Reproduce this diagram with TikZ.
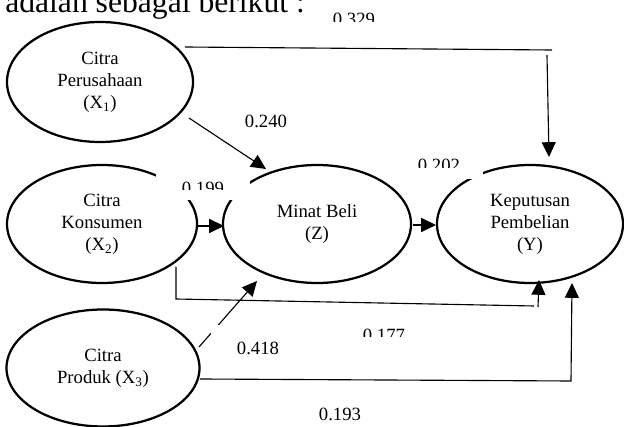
\documentclass[tikz,border=0pt]{standalone}
\usepackage{fontspec}
\setmainfont{Liberation Serif}
\usetikzlibrary{shapes.geometric,arrows.meta}

\tikzset{construct/.style={draw,ellipse,line width=1.6pt,inner sep=0pt,align=center,font=\fontsize{13.3}{15.6}\selectfont},
path value/.style={font=\fontsize{13.3}{15.6}\selectfont,anchor=base,inner sep=0pt},
value box/.style={fill=white,draw=none,inner sep=0pt},
link/.style={line width=0.8pt},
arrow link/.style={line width=0.8pt,-{Triangle[length=3.7mm,width=3.5mm]}},
heading/.style={font=\fontsize{22.5}{27}\selectfont,anchor=base west,inner sep=0pt}}

\begin{document}
\begin{tikzpicture}[x=0.25mm,y=-0.25mm]
\useasboundingbox (0,0) rectangle (624,427);

%% text above the model (cut by the page)
\node [heading] (lead) at (5,13) {adalah sebagai berikut :};

%% constructs
\node [construct,minimum width=46.5mm,minimum height=30mm] (x1) at (100,82) {Citra\\Perusahaan\\(X\textsubscript{1})};
\node [construct,minimum width=47.5mm,minimum height=29.5mm] (x2) at (102,224) {Citra\\Konsumen\\(X\textsubscript{2})};
\node [construct,minimum width=48.25mm,minimum height=29.25mm] (x3) at (103,368) {Citra\\Produk (X\textsubscript{3})};
\node [construct,minimum width=47mm,minimum height=29.5mm] (z) at (317,224) {Minat Beli\\(Z)};
\node [construct,minimum width=46.5mm,minimum height=29.5mm] (y) at (530,224) {Keputusan\\Pembelian\\(Y)};

%% end points of the paths
\coordinate (a1) at (185,47);
\coordinate (a2) at (552,50);
\coordinate (a3) at (547,55);
\coordinate (a4) at (549,157);
\coordinate (b1) at (176,267);
\coordinate (b2) at (176,299);
\coordinate (b3) at (534,306);
\coordinate (b4) at (538,307);
\coordinate (b5) at (539,280);
\coordinate (c1) at (200,379);
\coordinate (c2) at (571,381);
\coordinate (c3) at (572,283);
\coordinate (d1) at (199,347);
\coordinate (d2) at (257,281);
\coordinate (e1) at (189,118);
\coordinate (e2) at (266,169);
\coordinate (f1) at (198,226);
\coordinate (f2) at (224,226);
\coordinate (g1) at (413,225);
\coordinate (g2) at (436,225);

%% paths
\draw [link] (a1) -- (a2);
\draw [arrow link] (a3) -- (a4);
\draw [link] (b1) -- (b2) -- (b3);
\draw [arrow link] (b4) -- (b5);
\draw [arrow link] (c1) -- (c2) -- (c3);
\draw [arrow link] (d1) -- (d2);
\draw [arrow link] (e1) -- (e2);
\draw [arrow link] (f1) -- (f2);
\draw [arrow link] (g1) -- (g2);

%% white text boxes over the lines
\node [value box,minimum width=23.5mm,minimum height=7.5mm] (box199) at (203,185) {};
\node [value box,minimum width=22mm,minimum height=7.25mm] (box202) at (439,164.5) {};
\node [value box,minimum width=22.5mm,minimum height=12.5mm] (box418) at (256,350) {};

%% path values
\begin{scope}
\clip (320,0) rectangle (390,22);
\node [path value] (v329) at (354,26) {0.329};
\end{scope}
\begin{scope}
\clip (156,170) rectangle (250,190);
\node [path value] (v199) at (203,195) {0.199};
\end{scope}
\begin{scope}
\clip (395,150) rectangle (483,168);
\node [path value] (v202) at (439,172) {0.202};
\end{scope}
\begin{scope}
\clip (340,320) rectangle (430,337);
\node [path value] (v177) at (384,342) {0.177};
\end{scope}
\node [path value] (v240) at (266,128) {0.240};
\node [path value] (v418) at (258,355) {0.418};
\node [path value] (v193) at (340,421) {0.193};

\end{tikzpicture}
\end{document}
